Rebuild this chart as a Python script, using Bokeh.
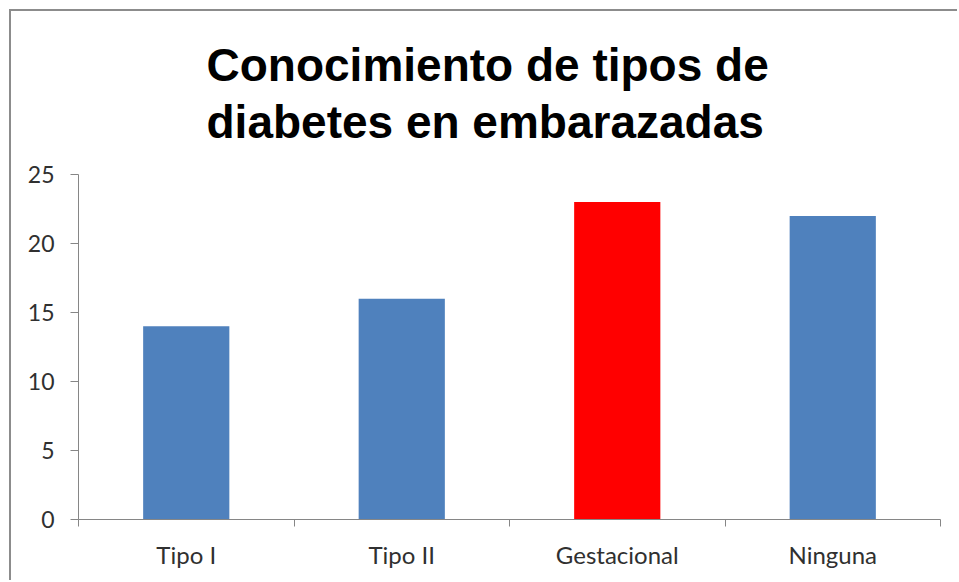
from bokeh.plotting import figure
from bokeh.models import FixedTicker
from bokeh.embed import file_html
from bokeh.resources import INLINE

categories = ["Tipo I", "Tipo II", "Gestacional", "Ninguna"]
values = [14, 16, 23, 22]
colors = ["#4F81BD", "#4F81BD", "#FF0000", "#4F81BD"]
y_ticks = [0, 5, 10, 15, 20, 25]
title_lines = ["Conocimiento de tipos de", "diabetes en embarazadas"]

xs = [i + 0.5 for i in range(len(categories))]
bounds = list(range(len(categories) + 1))

p = figure(width=948, height=571, x_range=(0, len(categories)), y_range=(0, 25),
           output_backend="svg", toolbar_location=None,
           min_border_left=67, min_border_right=19, min_border_bottom=63, min_border_top=163)
p.styles = {"border-left": "2px solid #8c8c8c", "border-top": "2px solid #8c8c8c",
            "margin-left": "9px", "margin-top": "9px"}

p.title.text = "\n".join(title_lines)
p.title.text_font = "Liberation Sans"
p.title.text_font_style = "bold"
p.title.text_font_size = "46px"
p.title.text_line_height = 1.1
p.title.align = "left"
p.title.vertical_align = "top"
p.title.offset = 128
p.title.standoff = 49
p.title.text_color = "#000000"

p.vbar(x=xs, top=values, width=0.4, fill_color=colors, line_color=None)

p.xgrid.visible = False
p.ygrid.visible = False
p.outline_line_color = None

ax = p.xaxis[0]
ax.ticker = FixedTicker(ticks=xs, minor_ticks=bounds)
ax.major_label_overrides = {x: c for x, c in zip(xs, categories)}
ax.major_tick_out = 0
ax.major_tick_in = 0
ax.minor_tick_out = 7
ax.minor_tick_in = 0
ax.axis_line_color = "#868686"
ax.minor_tick_line_color = "#868686"
ax.major_label_text_font = "Lato"
ax.major_label_text_font_size = "24px"
ax.major_label_text_color = "#303030"
ax.major_label_standoff = 13

ay = p.yaxis[0]
ay.ticker = FixedTicker(ticks=y_ticks)
ay.major_tick_out = 8
ay.major_tick_in = 0
ay.minor_tick_out = 0
ay.minor_tick_in = 0
ay.axis_line_color = "#868686"
ay.major_tick_line_color = "#868686"
ay.major_label_text_font = "Lato"
ay.major_label_text_font_size = "23px"
ay.major_label_text_color = "#303030"
ay.major_label_standoff = 16

open("out.html", "w").write(file_html(p, INLINE))
